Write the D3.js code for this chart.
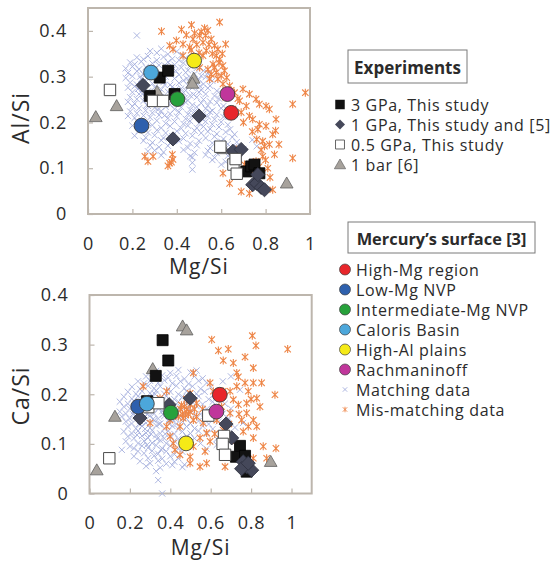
<!DOCTYPE html>
<html><head><meta charset="utf-8">
<script src="https://cdn.jsdelivr.net/npm/d3@7"></script>
<style>body{margin:0;background:#fff}</style>
</head><body>
<svg id="chart" width="554" height="565"></svg>
<script>
// ---------------- DATA ----------------
const xTickValues = [0, 0.2, 0.4, 0.6, 0.8, 1];
const yTickValues = [0, 0.1, 0.2, 0.3, 0.4];
const xTickLabels = ["0", "0.2", "0.4", "0.6", "0.8", "1"];
const yTickLabels = ["0", "0.1", "0.2", "0.3", "0.4"];

const experimentSeries = ["3 GPa, This study", "1 GPa, This study and [5]", "0.5 GPa, This study", "1 bar [6]"];
const surfaceRegions = ["High-Mg region", "Low-Mg NVP", "Intermediate-Mg NVP", "Caloris Basin", "High-Al plains", "Rachmaninoff"];
const surfaceMg = [0.645, 0.241, 0.403, 0.284, 0.478, 0.628];
const surfaceAl = [0.221, 0.193, 0.251, 0.309, 0.335, 0.262];
const surfaceCa = [0.199, 0.175, 0.163, 0.181, 0.101, 0.165];

// Al/Si panel  [Mg/Si, Al/Si]
const alGPa3 = [[0.278,0.258],[0.323,0.298],[0.361,0.313],[0.39,0.262],[0.713,0.093],[0.735,0.104],[0.75,0.108],[0.772,0.089]];
const alGPa1 = [[0.248,0.281],[0.5,0.214],[0.383,0.164],[0.653,0.137],[0.69,0.141],[0.742,0.064],[0.76,0.067],[0.765,0.086],[0.78,0.058],[0.795,0.053]];
const alGPa05 = [[0.099,0.271],[0.293,0.247],[0.338,0.247],[0.596,0.147],[0.655,0.108],[0.665,0.12],[0.67,0.088]];
const al1bar = [[0.035,0.212],[0.129,0.236],[0.311,0.267],[0.476,0.296],[0.47,0.285],[0.61,0.142],[0.895,0.067]];
const alMatching = [
[0.28,.356],[0.31,.352],[0.33,.361],[0.36,.349],[0.40,.355],[0.42,.347],
[0.22,.342],[0.25,.338],[0.27,.345],[0.31,.336],[0.34,.343],[0.38,.339],[0.41,.336],[0.44,.341],[0.47,.335],
[0.19,.331],[0.21,.327],[0.24,.333],[0.29,.329],[0.32,.325],[0.36,.332],[0.39,.326],[0.43,.330],[0.46,.324],[0.50,.328],
[0.17,.318],[0.20,.322],[0.23,.316],[0.26,.321],[0.30,.317],[0.35,.323],[0.38,.315],[0.42,.320],[0.45,.314],[0.49,.319],[0.52,.313],
[0.18,.308],[0.22,.312],[0.25,.305],[0.28,.311],[0.33,.307],[0.37,.310],[0.41,.304],[0.44,.309],[0.48,.306],[0.51,.302],[0.54,.308],
[0.17,.297],[0.20,.301],[0.24,.295],[0.27,.299],[0.31,.293],[0.35,.300],[0.39,.296],[0.43,.292],[0.46,.298],[0.50,.294],[0.53,.299],[0.56,.291],
[0.19,.287],[0.22,.283],[0.26,.289],[0.29,.285],[0.34,.288],[0.37,.282],[0.41,.286],[0.45,.281],[0.48,.288],[0.52,.284],[0.55,.280],
[0.18,.276],[0.21,.279],[0.25,.273],[0.30,.277],[0.33,.272],[0.38,.278],[0.42,.274],[0.44,.270],[0.47,.276],[0.51,.271],[0.54,.275],[0.58,.269],
[0.20,.266],[0.23,.262],[0.27,.268],[0.32,.264],[0.36,.267],[0.40,.261],[0.43,.265],[0.46,.259],[0.50,.266],[0.53,.262],[0.57,.258],[0.60,.263],
[0.19,.255],[0.22,.251],[0.26,.257],[0.29,.253],[0.35,.256],[0.38,.250],[0.42,.254],[0.45,.248],[0.49,.255],[0.52,.250],[0.55,.246],[0.59,.252],
[0.18,.245],[0.21,.241],[0.25,.247],[0.33,.243],[0.37,.239],[0.44,.244],[0.47,.238],[0.51,.242],[0.54,.237],[0.58,.243],[0.61,.236],
[0.20,.235],[0.23,.231],[0.27,.236],[0.30,.232],[0.35,.234],[0.39,.229],[0.42,.233],[0.46,.228],[0.49,.234],[0.53,.230],[0.56,.226],[0.60,.231],
[0.19,.224],[0.22,.220],[0.26,.226],[0.29,.221],[0.33,.225],[0.37,.219],[0.41,.223],[0.45,.218],[0.48,.224],[0.52,.219],[0.55,.223],[0.58,.217],[0.62,.222],
[0.18,.214],[0.21,.210],[0.25,.215],[0.28,.211],[0.32,.216],[0.36,.209],[0.40,.213],[0.44,.208],[0.47,.214],[0.51,.209],[0.54,.213],[0.57,.207],[0.61,.212],
[0.22,.203],[0.27,.199],[0.31,.204],[0.35,.198],[0.39,.202],[0.43,.197],[0.46,.203],[0.50,.198],[0.53,.202],[0.56,.196],[0.60,.201],[0.63,.195],
[0.20,.193],[0.24,.189],[0.29,.194],[0.33,.188],[0.37,.192],[0.42,.187],[0.45,.193],[0.49,.188],[0.52,.191],[0.55,.186],[0.59,.190],[0.64,.185],
[0.23,.182],[0.27,.178],[0.31,.183],[0.35,.177],[0.40,.181],[0.44,.176],[0.48,.182],[0.51,.177],[0.54,.180],[0.58,.175],[0.62,.179],[0.66,.174],
[0.21,.171],[0.26,.167],[0.30,.172],[0.34,.166],[0.38,.170],[0.43,.165],[0.47,.171],[0.53,.166],[0.57,.169],[0.61,.164],[0.65,.168],
[0.25,.160],[0.29,.156],[0.33,.161],[0.37,.155],[0.41,.159],[0.46,.154],[0.50,.160],[0.56,.155],[0.60,.158],[0.63,.153],[0.67,.157],[0.74,.162],
[0.28,.150],[0.32,.146],[0.36,.149],[0.45,.145],[0.49,.150],[0.55,.144],[0.59,.148],[0.62,.143],[0.66,.147],[0.70,.142],
[0.30,.139],[0.34,.135],[0.43,.140],[0.48,.134],[0.54,.138],[0.58,.133],[0.64,.137],[0.68,.132],[0.76,.148],
[0.33,.128],[0.47,.124],[0.53,.129],[0.57,.123],[0.63,.127],[0.67,.122],
[0.27,.137],[0.46,.126],[0.56,.118],[0.62,.114],[0.47,.112],[0.60,.108],[0.47,.097],[0.22,.39],
[0.235,.300],[0.265,.310],[0.295,.305],[0.325,.296],[0.345,.282],[0.395,.272],[0.305,.262],[0.245,.262],[0.315,.228],[0.405,.243],
[0.285,.245],[0.345,.215],[0.435,.253],[0.475,.261],[0.395,.313],[0.445,.296],[0.505,.279],[0.225,.273],[0.265,.238],[0.355,.244]
];
const alMismatch = [
[0.331,0.399],[0.421,0.403],[0.466,0.413],[0.593,0.419],[0.525,0.406],[0.540,0.401],[0.503,0.390],[0.473,0.382],[0.443,0.391],[0.398,0.379],
[0.368,0.368],[0.383,0.360],[0.428,0.371],[0.458,0.364],[0.518,0.375],[0.555,0.382],[0.570,0.368],[0.620,0.371],[0.533,0.357],[0.578,0.346],
[0.593,0.338],[0.563,0.327],[0.540,0.316],[0.555,0.305],[0.585,0.295],[0.600,0.302],[0.608,0.284],[0.638,0.280],[0.660,0.265],[0.698,0.273],
[0.727,0.262],[0.757,0.251],[0.772,0.240],[0.802,0.236],[0.817,0.229],[0.847,0.207],[0.727,0.214],[0.742,0.207],[0.772,0.196],[0.802,0.192],
[0.832,0.174],[0.765,0.185],[0.787,0.159],[0.817,0.152],[0.795,0.148],[0.840,0.130],[0.787,0.126],[0.757,0.115],[0.705,0.108],[0.727,0.097],
[0.660,0.115],[0.608,0.089],[0.638,0.067],[0.690,0.049],[0.727,0.045],[0.832,0.053],[0.922,0.122],[0.922,0.240],[0.979,0.265],[0.428,0.346],
[0.503,0.320],[0.518,0.346],[0.608,0.324],[0.578,0.309],[0.548,0.295],[0.383,0.119],[0.368,0.111],[0.293,0.126],[0.653,0.229],[0.683,0.247],
[0.713,0.236],[0.668,0.141],[0.256,0.126],[0.270,0.115],[0.376,0.113],[0.360,0.105],[0.380,0.130],[0.56,0.35],[0.59,0.33],[0.57,0.32],
[0.615,0.313],[0.625,0.298],[0.50,0.352],[0.465,0.358],[0.53,0.39],[0.51,0.398],[0.645,0.27],[0.675,0.252],[0.69,0.222],[0.70,0.20],
[0.74,0.18],[0.76,0.163],[0.78,0.14],[0.80,0.118],[0.81,0.10],[0.77,0.103],[0.82,0.08],[0.79,0.052],[0.86,0.152],[0.845,0.182],
[0.49,0.37],[0.545,0.37],[0.605,0.35],[0.585,0.36],[0.48,0.395],[0.62,0.255]
];

// Ca/Si panel  [Mg/Si, Ca/Si]
const caGPa3 = [[0.285,0.186],[0.362,0.309],[0.39,0.268],[0.328,0.237],[0.745,0.096],[0.725,0.074],[0.77,0.076],[0.778,0.044]];
const caGPa1 = [[0.25,0.152],[0.498,0.192],[0.394,0.179],[0.676,0.14],[0.704,0.112],[0.761,0.064],[0.778,0.054],[0.803,0.047],[0.753,0.05],[0.786,0.061]];
const caGPa05 = [[0.098,0.071],[0.291,0.174],[0.341,0.182],[0.588,0.157],[0.666,0.116],[0.659,0.1],[0.671,0.078]];
const ca1bar = [[0.036,0.047],[0.126,0.155],[0.313,0.251],[0.461,0.337],[0.481,0.329],[0.897,0.064]];
const caMatching = [
[0.33,.247],[0.40,.243],[0.44,.249],[0.50,.244],[0.53,.248],
[0.28,.236],[0.31,.232],[0.36,.238],[0.39,.233],[0.43,.237],[0.47,.231],[0.52,.236],[0.56,.232],
[0.24,.226],[0.27,.222],[0.30,.227],[0.34,.223],[0.37,.228],[0.41,.222],[0.45,.226],[0.49,.221],[0.54,.227],[0.58,.223],[0.66,.226],
[0.21,.215],[0.25,.211],[0.29,.217],[0.32,.212],[0.35,.216],[0.39,.211],[0.43,.217],[0.47,.212],[0.51,.216],[0.55,.211],[0.60,.215],[0.70,.236],
[0.19,.205],[0.23,.201],[0.26,.206],[0.30,.202],[0.33,.207],[0.37,.201],[0.40,.205],[0.44,.200],[0.48,.206],[0.53,.201],[0.57,.205],[0.62,.200],
[0.17,.195],[0.21,.191],[0.24,.196],[0.28,.192],[0.31,.197],[0.35,.191],[0.38,.196],[0.42,.190],[0.46,.195],[0.50,.191],[0.54,.196],[0.59,.190],[0.64,.195],[0.745,.209],
[0.15,.185],[0.19,.181],[0.22,.186],[0.26,.182],[0.29,.187],[0.33,.181],[0.36,.186],[0.40,.180],[0.44,.185],[0.48,.181],[0.52,.186],[0.56,.180],[0.61,.185],[0.67,.181],
[0.17,.175],[0.20,.171],[0.24,.176],[0.27,.172],[0.31,.177],[0.34,.171],[0.38,.176],[0.42,.170],[0.45,.175],[0.49,.171],[0.53,.176],[0.58,.170],[0.63,.175],[0.70,.171],
[0.15,.165],[0.18,.161],[0.22,.166],[0.25,.162],[0.29,.167],[0.32,.161],[0.36,.166],[0.39,.160],[0.43,.165],[0.47,.161],[0.51,.166],[0.55,.160],[0.60,.165],[0.66,.161],
[0.16,.155],[0.20,.151],[0.23,.156],[0.27,.152],[0.30,.157],[0.34,.151],[0.37,.156],[0.41,.150],[0.45,.155],[0.48,.151],[0.52,.156],[0.57,.150],[0.62,.155],[0.69,.151],[0.76,.142],
[0.18,.145],[0.21,.141],[0.25,.146],[0.28,.142],[0.32,.147],[0.35,.141],[0.39,.146],[0.43,.140],[0.46,.145],[0.50,.141],[0.54,.146],[0.59,.140],[0.64,.145],
[0.19,.135],[0.23,.131],[0.26,.136],[0.30,.132],[0.33,.137],[0.37,.131],[0.41,.136],[0.44,.130],[0.48,.135],[0.52,.131],[0.56,.136],[0.61,.130],[0.72,.133],
[0.17,.125],[0.21,.121],[0.24,.126],[0.28,.122],[0.31,.127],[0.35,.121],[0.39,.126],[0.42,.120],[0.46,.125],[0.50,.121],[0.54,.126],[0.58,.120],[0.66,.128],
[0.19,.115],[0.22,.111],[0.26,.116],[0.29,.112],[0.33,.117],[0.37,.111],[0.40,.116],[0.44,.110],[0.48,.115],[0.52,.111],[0.63,.110],[0.70,.118],
[0.18,.105],[0.24,.101],[0.27,.106],[0.31,.102],[0.35,.107],[0.38,.101],[0.42,.106],[0.46,.100],[0.50,.105],[0.55,.101],[0.63,.098],
[0.20,.095],[0.22,.091],[0.26,.096],[0.29,.092],[0.33,.097],[0.36,.091],[0.40,.096],[0.44,.090],[0.48,.095],[0.58,.090],
[0.16,.088],[0.24,.085],[0.27,.081],[0.31,.086],[0.34,.080],[0.38,.085],[0.42,.079],[0.46,.084],
[0.22,.075],[0.29,.071],[0.32,.076],[0.36,.070],[0.40,.075],[0.44,.071],
[0.25,.065],[0.30,.061],[0.34,.066],[0.38,.060],[0.42,.064],[0.47,.058],
[0.28,.055],[0.35,.052],[0.41,.057],[0.46,.053],[0.33,.045],[0.34,.027],[0.36,.0],
[0.255,.170],[0.285,.160],[0.315,.150],[0.345,.140],[0.275,.130],[0.305,.120],[0.335,.110],[0.365,.160],[0.395,.140],[0.245,.140],
[0.265,.190],[0.325,.200],[0.355,.178],[0.215,.160],[0.235,.118],[0.375,.120],[0.425,.150],[0.305,.180],[0.285,.098],[0.355,.088]
];
const caMismatch = [
[0.605,0.310],[0.806,0.318],[0.824,0.298],[0.981,0.291],[0.638,0.288],[0.687,0.291],[0.662,0.268],[0.712,0.263],[0.770,0.275],[0.811,0.253],
[0.729,0.243],[0.737,0.235],[0.770,0.223],[0.811,0.223],[0.852,0.223],[0.786,0.206],[0.828,0.192],[0.844,0.175],[0.918,0.199],[0.778,0.182],
[0.737,0.179],[0.712,0.189],[0.597,0.223],[0.613,0.206],[0.662,0.206],[0.696,0.206],[0.778,0.162],[0.811,0.148],[0.753,0.148],[0.828,0.135],
[0.786,0.135],[0.761,0.125],[0.811,0.112],[0.712,0.108],[0.745,0.091],[0.811,0.071],[0.877,0.071],[0.860,0.095],[0.923,0.091],[0.662,0.128],
[0.580,0.122],[0.547,0.112],[0.514,0.095],[0.572,0.085],[0.597,0.105],[0.498,0.074],[0.448,0.078],[0.580,0.061],[0.671,0.054],[0.498,0.061],
[0.547,0.054],[0.530,0.182],[0.498,0.165],[0.514,0.148],[0.481,0.169],[0.464,0.152],[0.448,0.135],[0.382,0.135],[0.399,0.148],[0.514,0.243],
[0.266,0.216],[0.349,0.192],[0.300,0.142],[0.382,0.206],[0.498,0.202],[0.563,0.142],[0.597,0.155],[0.630,0.148],[0.654,0.175],[0.399,0.115],
[0.415,0.101],[0.423,0.088],[0.696,0.162],[0.729,0.216],[0.47,0.175],[0.49,0.16],[0.45,0.17],[0.50,0.18],[0.46,0.16],[0.52,0.17],
[0.48,0.19],[0.455,0.178],[0.475,0.158],[0.44,0.155],[0.53,0.155],[0.56,0.17],[0.62,0.12],[0.69,0.14],[0.74,0.16],[0.80,0.19]
];

// ---------------- STYLE ----------------
const FONT = "'Open Sans', sans-serif";
const TXT = "#2b2b2b";
const FRAME = "#bdb6ad";
const regionColors = {"High-Mg region":"#e8262b","Low-Mg NVP":"#2e60ad","Intermediate-Mg NVP":"#27a13b","Caloris Basin":"#4ca7db","High-Al plains":"#f5ea17","Rachmaninoff":"#c0369b"};
const MATCH_C = "#a4aedd", MIS_C = "#ee8546";

const svg = d3.select("#chart");

const crossPath = s => `M${-s},${-s}L${s},${s}M${-s},${s}L${s},${-s}`;
const starPath = s => `M${-s},${-s}L${s},${s}M${-s},${s}L${s},${-s}M0,${-s*1.25}L0,${s*1.25}`;
const symSquare = a => d3.symbol().type(d3.symbolSquare).size(a)();
const symTri = a => d3.symbol().type(d3.symbolTriangle).size(a)();

function drawExp(g, x, y, gpa3, gpa1, gpa05, bar1) {
  g.selectAll(null).data(bar1).join("path").attr("d", symTri(70))
    .attr("transform", d => `translate(${x(d[0])},${y(d[1]) + 1})`)
    .attr("fill", "#a7a29c").attr("stroke", "#5f5f5f").attr("stroke-width", 0.8);
  g.selectAll(null).data(gpa3).join("path").attr("d", symSquare(121))
    .attr("transform", d => `translate(${x(d[0])},${y(d[1])})`)
    .attr("fill", "#121212").attr("stroke", "#000").attr("stroke-width", 0.8);
  g.selectAll(null).data(gpa1).join("path").attr("d", symSquare(100))
    .attr("transform", d => `translate(${x(d[0])},${y(d[1])}) rotate(45)`)
    .attr("fill", "#45485a").attr("stroke", "#2f3140").attr("stroke-width", 0.8);
  g.selectAll(null).data(gpa05).join("path").attr("d", symSquare(130))
    .attr("transform", d => `translate(${x(d[0])},${y(d[1])})`)
    .attr("fill", "#fff").attr("stroke", "#4a4a4a").attr("stroke-width", 1);
}

function panel(cfg) {
  const x = d3.scaleLinear().domain(cfg.xDomain).range([cfg.left, cfg.right]);
  const y = d3.scaleLinear().domain(cfg.yDomain).range([cfg.bottom, cfg.top]);
  const g = svg.append("g");
  g.append("rect").attr("x", cfg.left).attr("y", cfg.top)
    .attr("width", cfg.right - cfg.left).attr("height", cfg.bottom - cfg.top)
    .attr("fill", "#fff").attr("stroke", FRAME).attr("stroke-width", 2);

  const xa = g.append("g").attr("transform", `translate(0,${cfg.bottom})`)
    .call(d3.axisBottom(x).tickValues(xTickValues).tickFormat((d, i) => xTickLabels[i])
      .tickSizeInner(-5).tickSizeOuter(0).tickPadding(23));
  const ya = g.append("g").attr("transform", `translate(${cfg.left},0)`)
    .call(d3.axisLeft(y).tickValues(yTickValues).tickFormat((d, i) => yTickLabels[i])
      .tickSizeInner(-5).tickSizeOuter(0).tickPadding(21));
  [xa, ya].forEach(a => {
    a.select(".domain").remove();
    a.selectAll(".tick line").attr("stroke", FRAME).attr("stroke-width", 1.2);
    a.selectAll(".tick text").attr("fill", TXT).style("font-family", FONT)
      .style("font-size", "18px").style("letter-spacing", "0.8px");
  });

  // clouds
  g.append("g").selectAll("path").data(cfg.matching).join("path")
    .attr("d", crossPath(3.1)).attr("transform", d => `translate(${x(d[0])},${y(d[1])})`)
    .attr("stroke", MATCH_C).attr("stroke-width", 0.9).attr("fill", "none");
  g.append("g").selectAll("path").data(cfg.mismatch).join("path")
    .attr("d", starPath(3.2)).attr("transform", d => `translate(${x(d[0])},${y(d[1])})`)
    .attr("stroke", MIS_C).attr("stroke-width", 1.1).attr("fill", "none");

  drawExp(g.append("g"), x, y, cfg.gpa3, cfg.gpa1, cfg.gpa05, cfg.bar1);

  g.append("g").selectAll("circle").data(surfaceRegions).join("circle")
    .attr("cx", (d, i) => x(surfaceMg[i])).attr("cy", (d, i) => y(cfg.surface[i]))
    .attr("r", 7.4).attr("fill", d => regionColors[d]).attr("stroke", "#3c3c3c").attr("stroke-width", 0.9);

  g.append("text").attr("x", (cfg.left + cfg.right) / 2).attr("y", cfg.xTitleY)
    .attr("text-anchor", "middle").attr("fill", TXT).style("font-family", FONT)
    .style("font-size", "21px").style("letter-spacing", "1px")
    .text("Mg/Si");
  g.append("text").attr("transform", `translate(29,${cfg.yTitleCY}) rotate(-90)`)
    .attr("text-anchor", "middle").attr("fill", TXT).style("font-family", FONT)
    .style("font-size", "23px").style("letter-spacing", "1px")
    .text(cfg.yTitle);
}

panel({left: 88, right: 310, top: 8, bottom: 214, xDomain: [0, 1], yDomain: [0, 0.45],
  matching: alMatching, mismatch: alMismatch, gpa3: alGPa3, gpa1: alGPa1, gpa05: alGPa05, bar1: al1bar,
  surface: surfaceAl, yTitle: "Al/Si", yTitleCY: 118, xTitleY: 274});
panel({left: 89.5, right: 311.7, top: 295, bottom: 493.5, xDomain: [0, 1.1], yDomain: [0, 0.4],
  matching: caMatching, mismatch: caMismatch, gpa3: caGPa3, gpa1: caGPa1, gpa05: caGPa05, bar1: ca1bar,
  surface: surfaceCa, yTitle: "Ca/Si", yTitleCY: 396, xTitleY: 555});

// ---------------- LEGEND ----------------
const LFS = "16px", LLS = "0.65px";
const lg = svg.append("g").style("font-family", FONT).attr("fill", TXT);
lg.append("rect").attr("x", 348).attr("y", 50).attr("width", 119).attr("height", 33)
  .attr("fill", "#fff").attr("stroke", "#7a7a7a").attr("stroke-width", 1);
lg.append("text").attr("x", 407.5).attr("y", 67).attr("dominant-baseline", "central").attr("text-anchor", "middle")
  .style("font-size", "17px").style("font-weight", "bold").text("Experiments");
lg.append("rect").attr("x", 348).attr("y", 222).attr("width", 187).attr("height", 31)
  .attr("fill", "#fff").attr("stroke", "#7a7a7a").attr("stroke-width", 1);
lg.append("text").attr("x", 441.5).attr("y", 238).attr("dominant-baseline", "central").attr("text-anchor", "middle")
  .style("font-size", "16.4px").style("font-weight", "bold").text("Mercury\u2019s surface [3]");

const expY = [104.5, 124.5, 144.5, 164.5];
const expSym = [
  g => g.append("path").attr("d", symSquare(90)).attr("fill", "#121212"),
  g => g.append("path").attr("d", symSquare(50)).attr("transform", "rotate(45)").attr("fill", "#45485a"),
  g => g.append("path").attr("d", symSquare(80)).attr("fill", "#fff").attr("stroke", "#555").attr("stroke-width", 0.9),
  g => g.append("path").attr("d", symTri(55)).attr("transform", "translate(0,1)").attr("fill", "#a7a29c").attr("stroke", "#666").attr("stroke-width", 0.7)
];
experimentSeries.forEach((name, i) => {
  const it = lg.append("g").attr("transform", `translate(340,${expY[i]})`);
  expSym[i](it);
  lg.append("text").attr("x", 351).attr("y", expY[i]).attr("dominant-baseline", "central")
    .style("font-size", LFS).style("letter-spacing", LLS).text(name);
});

const surfY = [269.5, 289.5, 309.5, 329.5, 349.5, 369.5];
surfaceRegions.forEach((name, i) => {
  lg.append("circle").attr("cx", 345).attr("cy", surfY[i]).attr("r", 5.5)
    .attr("fill", regionColors[name]).attr("stroke", "#444").attr("stroke-width", 0.7);
  lg.append("text").attr("x", 356).attr("y", surfY[i]).attr("dominant-baseline", "central")
    .style("font-size", LFS).style("letter-spacing", LLS).text(name);
});
lg.append("path").attr("d", crossPath(2.2)).attr("transform", "translate(345,389.5)")
  .attr("stroke", MATCH_C).attr("stroke-width", 0.9).attr("fill", "none");
lg.append("text").attr("x", 356).attr("y", 389.5).attr("dominant-baseline", "central")
  .style("font-size", LFS).style("letter-spacing", LLS).text("Matching data");
lg.append("path").attr("d", starPath(2.2)).attr("transform", "translate(345,409.5)")
  .attr("stroke", MIS_C).attr("stroke-width", 0.9).attr("fill", "none");
lg.append("text").attr("x", 356).attr("y", 409.5).attr("dominant-baseline", "central")
  .style("font-size", LFS).style("letter-spacing", LLS).text("Mis-matching data");
</script>
</body></html>
